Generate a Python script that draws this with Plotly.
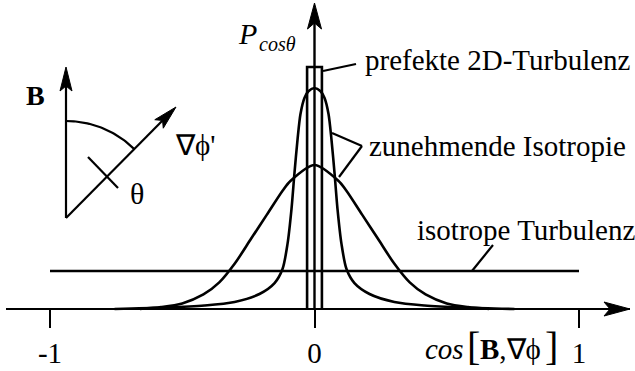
import numpy as np
import plotly.graph_objects as go

FONT = "Liberation Serif"
INK = "black"

# x axis: cos of the angle between B and grad(phi)
tick_vals = [-1, 0, 1]
tick_text = ["-1", "0", "1"]

# perfect 2D turbulence: a narrow box at cos = 0
box_x = [-0.028, -0.028, 0.028, 0.028]
box_y = [0.0, 1.0, 1.0, 0.0]

# increasing isotropy, stage 1: sharp peak with long tails
narrow_x = [-0.756, -0.567, -0.416, -0.302, -0.208, -0.151, -0.121, -0.102, -0.087,
            -0.076, -0.064, -0.053, -0.038, -0.023, 0.0, 0.023, 0.038, 0.053, 0.064,
            0.076, 0.087, 0.102, 0.121, 0.151, 0.208, 0.302, 0.416, 0.567, 0.756]
narrow_y = [0.0, 0.006, 0.0145, 0.029, 0.062, 0.107, 0.165, 0.269, 0.413,
            0.558, 0.702, 0.806, 0.872, 0.90, 0.913, 0.90, 0.872, 0.806, 0.702,
            0.558, 0.413, 0.269, 0.165, 0.107, 0.062, 0.029, 0.0145, 0.006, 0.0]

# increasing isotropy, stage 2: broad bell
broad_x = [-0.66, -0.58, -0.50, -0.42, -0.36, -0.30, -0.24, -0.18, -0.12, -0.09, 0.0,
           0.09, 0.12, 0.18, 0.24, 0.30, 0.36, 0.42, 0.50, 0.58, 0.66]
broad_y = [0.0, 0.008, 0.023, 0.06, 0.11, 0.19, 0.29, 0.39, 0.49, 0.53, 0.595,
           0.53, 0.49, 0.39, 0.29, 0.19, 0.11, 0.06, 0.023, 0.008, 0.0]

# isotropic turbulence: flat distribution
iso_x = [-1.0, 1.0]
iso_y = [0.157, 0.157]

# ---- canvas geometry (pixels) used for the decorative drawing ----
W, H = 635, 371
X0_PX, X_SCALE = 314.5, 264.5      # px of cos=0, px per unit
Y0_PX, Y_SCALE = 309.0, 242.0      # px of P=0, px per unit
DOM_L, DOM_R = 6, 630
x_range = [(DOM_L - X0_PX) / X_SCALE, (DOM_R - X0_PX) / X_SCALE]
y_range = [(Y0_PX - H) / Y_SCALE, Y0_PX / Y_SCALE]


def dx(px):
    return (px - X0_PX) / X_SCALE


def dy(py):
    return (Y0_PX - py) / Y_SCALE


def seg(p, q, width=2.2):
    return go.Scatter(x=[dx(p[0]), dx(q[0])], y=[dy(p[1]), dy(q[1])], mode="lines",
                      line=dict(color=INK, width=width), hoverinfo="skip",
                      showlegend=False, cliponaxis=False)


def arrowhead(tip, direction, length=24, half=7, notch=6):
    ux, uy = direction
    n = np.hypot(ux, uy)
    ux, uy = ux / n, uy / n
    nx, ny = -uy, ux
    tx, ty = tip
    bx, by = tx - length * ux, ty - length * uy
    mx, my = tx - (length - notch) * ux, ty - (length - notch) * uy
    pts = [(tx, ty), (bx + half * nx, by + half * ny), (mx, my),
           (bx - half * nx, by - half * ny), (tx, ty)]
    return go.Scatter(x=[dx(p[0]) for p in pts], y=[dy(p[1]) for p in pts],
                      mode="lines", fill="toself", fillcolor=INK,
                      line=dict(color=INK, width=1), hoverinfo="skip",
                      showlegend=False, cliponaxis=False)


fig = go.Figure()

curve_line = dict(color=INK, width=2.6)
fig.add_trace(go.Scatter(x=iso_x, y=iso_y, mode="lines", line=curve_line,
                         showlegend=False, cliponaxis=False))
fig.add_trace(go.Scatter(x=broad_x, y=broad_y, mode="lines", line=curve_line,
                         line_shape="spline", line_smoothing=0.8,
                         showlegend=False, cliponaxis=False))
fig.add_trace(go.Scatter(x=narrow_x, y=narrow_y, mode="lines", line=curve_line,
                         line_shape="spline", line_smoothing=0.8,
                         showlegend=False, cliponaxis=False))
fig.add_trace(go.Scatter(x=box_x, y=box_y, mode="lines", line=curve_line,
                         showlegend=False, cliponaxis=False))

# vertical axis with arrow
fig.add_trace(seg((X0_PX, Y0_PX), (X0_PX, 20), width=2.4))
fig.add_trace(arrowhead((X0_PX, 3), (0, -1), length=26, half=7, notch=6))
# horizontal axis arrow
fig.add_trace(arrowhead((DOM_R, Y0_PX), (1, 0), length=26, half=7, notch=6))

# leader lines
fig.add_trace(seg((323, 71), (356, 64)))
fig.add_trace(seg((332, 133), (362, 146)))
fig.add_trace(seg((339, 177), (362, 146)))
fig.add_trace(seg((472, 271), (493, 245)))

# angle sketch: B, grad(phi') and theta
origin = (66, 218)
fig.add_trace(seg(origin, (66, 85)))
fig.add_trace(arrowhead((66, 67), (0, -1), length=24, half=6, notch=5))
fig.add_trace(seg(origin, (166, 117)))
fig.add_trace(arrowhead((176, 107), (1, -1), length=24, half=6, notch=5))
ang = np.linspace(np.pi / 4, np.pi / 2, 40)
r = 97
fig.add_trace(go.Scatter(x=[dx(origin[0] + r * np.cos(a)) for a in ang],
                         y=[dy(origin[1] - r * np.sin(a)) for a in ang],
                         mode="lines", line=dict(color=INK, width=2.2),
                         hoverinfo="skip", showlegend=False, cliponaxis=False))
fig.add_trace(seg((88, 157), (118, 188)))


def label(text, px, py, xanchor="center", size=29):
    fig.add_annotation(x=dx(px), y=dy(py), text=text, showarrow=False,
                       xanchor=xanchor, yanchor="middle", borderpad=0,
                       font=dict(family=FONT, size=size, color=INK))


# ordinate label P_cos(theta)
label("<i>P</i>", 258, 33, xanchor="right", size=30)
label("<i>cosθ</i>", 258, 44, xanchor="left", size=20)

label("prefekte 2D-Turbulenz", 364, 60, xanchor="left")
label("zunehmende Isotropie", 368, 146, xanchor="left")
label("isotrope Turbulenz", 416, 230, xanchor="left")
label("<b>B</b>", 35, 95, size=28)
label("∇ϕ'", 195, 145)
label("θ", 137, 193, size=30)

# abscissa label cos[B, grad phi]
label("<i>cos</i>", 465, 349, xanchor="right")
label("[", 473, 346, size=40)
label("<b>B</b>,∇ϕ", 479, 349, xanchor="left")
label("]", 551, 346, size=40)

fig.update_layout(
    width=W, height=H,
    margin=dict(l=0, r=0, t=0, b=0),
    paper_bgcolor="white", plot_bgcolor="white",
    showlegend=False,
    xaxis=dict(domain=[DOM_L / W, DOM_R / W], range=x_range,
               anchor="free", position=(H - Y0_PX) / H,
               showgrid=False, zeroline=False,
               showline=True, linecolor=INK, linewidth=2.4,
               ticks="outside", ticklen=18, tickwidth=2.4, tickcolor=INK,
               tickvals=tick_vals, ticktext=tick_text,
               tickfont=dict(family=FONT, size=29, color=INK)),
    yaxis=dict(domain=[0, 1], range=y_range, visible=False),
)

fig.write_html("out.html")
